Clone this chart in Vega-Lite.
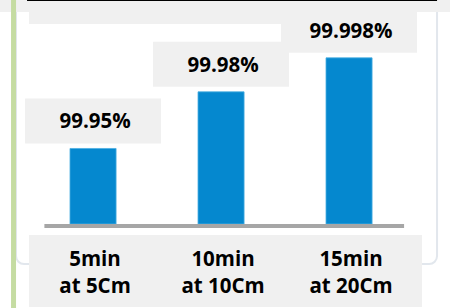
{
  "$schema": "https://vega.github.io/schema/vega-lite/v6.json",
  "width": 450,
  "height": 308,
  "padding": 0,
  "autosize": {"type": "none"},
  "background": "white",
  "config": {"view": {"stroke": null}, "axis": {"disable": true}},
  "data": {"values": [
    {"cat": "5min\nat 5Cm", "value": 99.95, "label": "99.95%"},
    {"cat": "10min\nat 10Cm", "value": 99.98, "label": "99.98%"},
    {"cat": "15min\nat 20Cm", "value": 99.998, "label": "99.998%"}
  ]},
  "layer": [
    {
      "data": {"values": [{}]},
      "mark": {"type": "rect", "fill": "white", "stroke": "#e2e7ed", "strokeWidth": 2, "cornerRadiusBottomLeft": 8, "cornerRadiusBottomRight": 8, "xOffset": -13, "x2Offset": 24},
      "encoding": {
        "x": {"datum": "5min\nat 5Cm", "bandPosition": 0,
              "scale": {"type": "band", "domain": ["5min\nat 5Cm", "10min\nat 10Cm", "15min\nat 20Cm"], "paddingInner": 0, "paddingOuter": 0.2578, "align": 0.44}},
        "x2": {"datum": "15min\nat 20Cm", "bandPosition": 1},
        "y": {"datum": 100.0233,
              "scale": {"type": "linear", "domain": [99.865508, 100.028644], "nice": false, "zero": false}},
        "y2": {"datum": 99.8888}
      }
    },
    {
      "data": {"values": [{}]},
      "mark": {"type": "rect", "fill": "#f0f0f0"},
      "encoding": {
        "y": {"datum": 100.03},
        "y2": {"datum": 100.0223}
      }
    },
    {
      "data": {"values": [{}]},
      "mark": {"type": "rect", "fill": "#f0f0f0"},
      "encoding": {
        "x": {"datum": "5min\nat 5Cm", "bandPosition": 0},
        "x2": {"datum": "10min\nat 10Cm", "bandPosition": 1},
        "y": {"datum": 100.03},
        "y2": {"datum": 100.0159}
      }
    },
    {
      "mark": {"type": "bar", "color": "#f0f0f0", "width": {"band": 1.0625}, "yOffset": -50, "y2Offset": -5},
      "encoding": {
        "x": {"field": "cat", "type": "nominal", "sort": null},
        "y": {"field": "value", "type": "quantitative"},
        "y2": {"field": "value"}
      }
    },
    {
      "mark": {"type": "bar", "color": "#0588cf", "stroke": "#4aaee2", "strokeWidth": 0.8, "width": {"band": 0.36}},
      "encoding": {
        "x": {"field": "cat", "type": "nominal", "sort": null},
        "y": {"field": "value", "type": "quantitative"},
        "y2": {"datum": 99.91}
      }
    },
    {
      "data": {"values": [{}]},
      "mark": {"type": "rule", "color": "#a6a6a6", "strokeWidth": 4, "yOffset": 2},
      "encoding": {
        "x": {"datum": "5min\nat 5Cm", "bandPosition": 0.12},
        "x2": {"datum": "15min\nat 20Cm", "bandPosition": 0.93},
        "y": {"datum": 99.91}
      }
    },
    {
      "data": {"values": [{}]},
      "mark": {"type": "rect", "fill": "#f0f0f0", "x2Offset": 9},
      "encoding": {
        "x": {"datum": "5min\nat 5Cm", "bandPosition": 0},
        "x2": {"datum": "15min\nat 20Cm", "bandPosition": 1},
        "y": {"datum": 99.9042},
        "y2": {"datum": 99.866}
      }
    },
    {
      "mark": {"type": "text", "font": "Open Sans", "fontWeight": "bold", "fontSize": 20.5, "color": "black", "baseline": "alphabetic", "align": "center", "dy": -20, "dx": 2},
      "encoding": {
        "x": {"field": "cat", "type": "nominal", "sort": null},
        "y": {"field": "value", "type": "quantitative"},
        "text": {"field": "label"}
      }
    },
    {
      "mark": {"type": "text", "font": "Open Sans", "fontWeight": "bold", "fontSize": 20.5, "color": "black", "baseline": "alphabetic", "align": "center", "lineBreak": "\n", "lineHeight": 27, "dx": 2},
      "encoding": {
        "x": {"field": "cat", "type": "nominal", "sort": null},
        "y": {"datum": 99.8879},
        "text": {"field": "cat"}
      }
    },
    {
      "data": {"values": [{}]},
      "mark": {"type": "rule", "color": "#c5dca2", "strokeWidth": 5, "xOffset": -15.5},
      "encoding": {
        "x": {"datum": "5min\nat 5Cm", "bandPosition": 0}
      }
    },
    {
      "data": {"values": [{}]},
      "mark": {"type": "rule", "color": "black", "strokeWidth": 2, "xOffset": -2, "x2Offset": 24},
      "encoding": {
        "x": {"datum": "5min\nat 5Cm", "bandPosition": 0},
        "x2": {"datum": "15min\nat 20Cm", "bandPosition": 1},
        "y": {"datum": 100.028644}
      }
    }
  ]
}
